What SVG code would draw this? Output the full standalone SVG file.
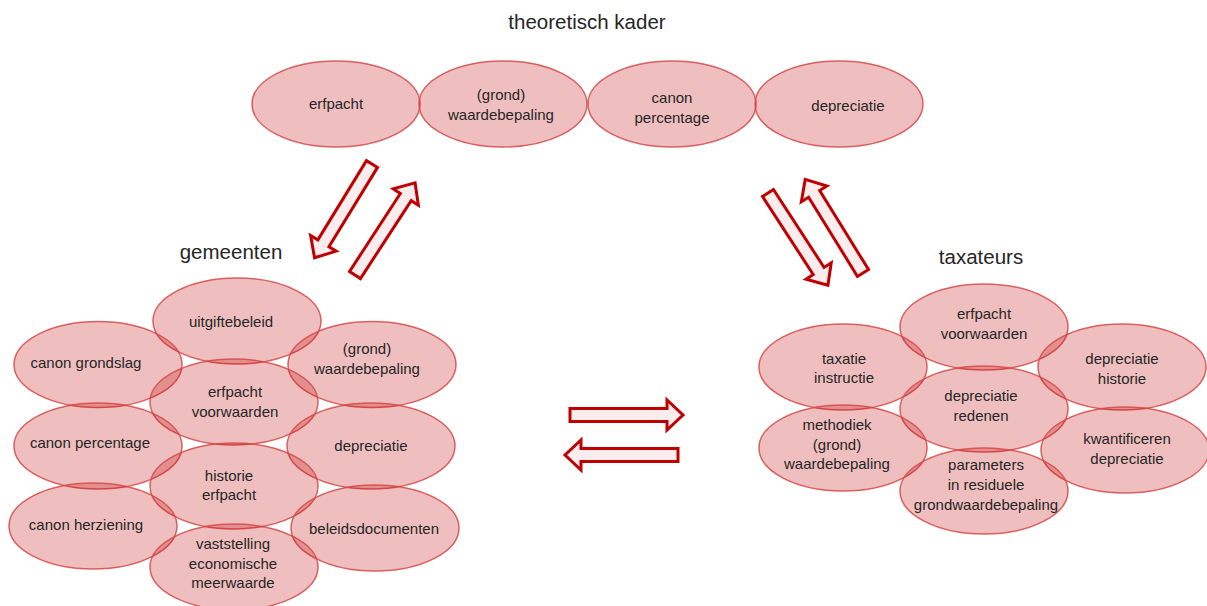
<svg xmlns="http://www.w3.org/2000/svg" width="1207" height="606" viewBox="0 0 1207 606">
<style>
  .n ellipse { fill: rgb(192,0,0); fill-opacity: 0.25; stroke: rgb(214,72,72); stroke-opacity: 0.85; stroke-width: 1.5; }
  .n text { font-family: "Liberation Sans", Arial, sans-serif; font-size: 15px; fill: #262626; text-anchor: middle; }
  .title { font-family: "Liberation Sans", Arial, sans-serif; font-size: 20.5px; fill: #262626; text-anchor: middle; }
  .arr { fill: #FBEDED; stroke: #C00000; stroke-width: 3; stroke-linejoin: miter; }
</style>
<defs>
  <path id="arrowDiag" d="M0,-6.5 L93,-6.5 L93,-15 L110,0 L93,15 L93,6.5 L0,6.5 Z"/>
  <path id="arrowH" d="M0,-6.5 L97,-6.5 L97,-15 L113,0 L97,15 L97,6.5 L0,6.5 Z"/>
</defs>
<rect width="1207" height="606" fill="#FFFFFF"/>

<text class="title" x="587" y="29">theoretisch kader</text>
<text class="title" x="231" y="259">gemeenten</text>
<text class="title" x="981" y="264">taxateurs</text>

<g id="connectors">
  <use href="#arrowDiag" class="arr" transform="translate(372,164) rotate(121.5)"/>
  <use href="#arrowDiag" class="arr" transform="translate(355,275) rotate(-56.9)"/>
  <use href="#arrowDiag" class="arr" transform="translate(768,193) rotate(57)"/>
  <use href="#arrowDiag" class="arr" transform="translate(863,273) rotate(238.3)"/>
  <use href="#arrowH" class="arr" transform="translate(570,415)"/>
  <use href="#arrowH" class="arr" transform="translate(678,455) rotate(180)"/>
</g>

<!-- top: theoretisch kader -->
<g id="top-erfpacht" class="n"><ellipse cx="336" cy="104" rx="84" ry="43"/><text x="336" y="109">erfpacht</text></g>
<g id="top-waardebepaling" class="n"><ellipse cx="503" cy="104" rx="84" ry="43"/><text x="501" y="100">(grond)</text><text x="501" y="120">waardebepaling</text></g>
<g id="top-canon" class="n"><ellipse cx="672" cy="104" rx="84" ry="43"/><text x="672" y="103">canon</text><text x="672" y="123">percentage</text></g>
<g id="top-depreciatie" class="n"><ellipse cx="839" cy="104" rx="84" ry="43"/><text x="848" y="111">depreciatie</text></g>

<!-- gemeenten -->
<g id="gem-uitgiftebeleid" class="n"><ellipse cx="237" cy="321" rx="84" ry="43"/><text x="231" y="327">uitgiftebeleid</text></g>
<g id="gem-canon-grondslag" class="n"><ellipse cx="98" cy="364.5" rx="84" ry="43"/><text x="86" y="368">canon grondslag</text></g>
<g id="gem-waardebepaling" class="n"><ellipse cx="372" cy="364.5" rx="84" ry="43"/><text x="367" y="354">(grond)</text><text x="367" y="374">waardebepaling</text></g>
<g id="gem-erfpacht-voorwaarden" class="n"><ellipse cx="234" cy="402" rx="84" ry="43"/><text x="235" y="397">erfpacht</text><text x="235" y="417">voorwaarden</text></g>
<g id="gem-canon-percentage" class="n"><ellipse cx="98" cy="446" rx="84" ry="43"/><text x="90" y="448">canon percentage</text></g>
<g id="gem-depreciatie" class="n"><ellipse cx="371" cy="446" rx="84" ry="43"/><text x="371" y="451">depreciatie</text></g>
<g id="gem-historie-erfpacht" class="n"><ellipse cx="234" cy="486" rx="84" ry="43"/><text x="229" y="481">historie</text><text x="229" y="500">erfpacht</text></g>
<g id="gem-canon-herziening" class="n"><ellipse cx="93" cy="526" rx="84" ry="43"/><text x="86" y="530">canon herziening</text></g>
<g id="gem-beleidsdocumenten" class="n"><ellipse cx="375" cy="528" rx="84" ry="43"/><text x="374" y="534">beleidsdocumenten</text></g>
<g id="gem-vaststelling" class="n"><ellipse cx="234" cy="567" rx="84" ry="43"/><text x="233" y="549">vaststelling</text><text x="233" y="569">economische</text><text x="233" y="588">meerwaarde</text></g>

<!-- taxateurs -->
<g id="tax-erfpacht-voorwaarden" class="n"><ellipse cx="984" cy="327" rx="84" ry="43"/><text x="984" y="319">erfpacht</text><text x="984" y="339">voorwaarden</text></g>
<g id="tax-taxatie-instructie" class="n"><ellipse cx="843" cy="367" rx="84" ry="43"/><text x="844" y="364">taxatie</text><text x="844" y="383">instructie</text></g>
<g id="tax-depreciatie-historie" class="n"><ellipse cx="1122" cy="367" rx="84" ry="43"/><text x="1122" y="364">depreciatie</text><text x="1122" y="384">historie</text></g>
<g id="tax-depreciatie-redenen" class="n"><ellipse cx="984" cy="409" rx="84" ry="43"/><text x="981" y="401">depreciatie</text><text x="981" y="421">redenen</text></g>
<g id="tax-methodiek" class="n"><ellipse cx="843" cy="448" rx="84" ry="43"/><text x="837" y="430">methodiek</text><text x="837" y="450">(grond)</text><text x="837" y="469">waardebepaling</text></g>
<g id="tax-kwantificeren" class="n"><ellipse cx="1125" cy="450" rx="84" ry="43"/><text x="1127" y="444">kwantificeren</text><text x="1127" y="464">depreciatie</text></g>
<g id="tax-parameters" class="n"><ellipse cx="984" cy="491" rx="84" ry="43"/><text x="986" y="470">parameters</text><text x="986" y="490">in residuele</text><text x="986" y="510">grondwaardebepaling</text></g>
</svg>
